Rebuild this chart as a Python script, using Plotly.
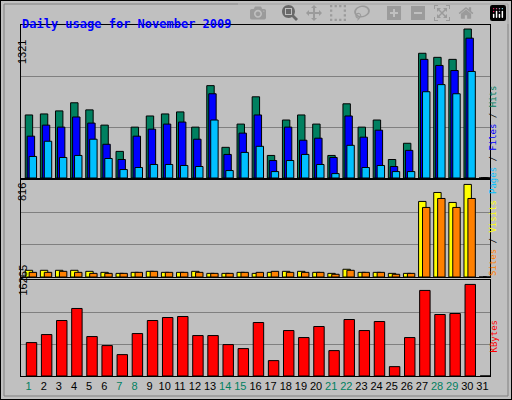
import plotly.graph_objects as go

days = list(range(1, 32))
hits = [559,568,595,667,604,469,236,451,550,568,586,451,819,272,478,720,200,514,559,478,200,658,451,514,164,308,1106,1070,1052,1321,0]
files = [371,469,451,541,487,299,164,371,433,478,496,344,747,209,398,559,155,451,335,353,182,550,362,424,102,245,1052,998,953,1240,0]
pages = [191,326,182,200,344,173,75,93,120,120,111,102,514,66,227,281,57,155,209,120,39,290,93,111,57,57,765,828,747,945,0]
visits = [59,59,59,59,50,41,32,41,50,41,41,50,32,32,41,32,41,50,50,41,32,68,41,41,32,32,666,745,657,816,0]
sites = [41,41,50,41,32,32,32,41,50,41,41,41,32,32,41,41,50,41,41,41,24,59,41,41,24,32,613,692,613,692,0]
kbytes = [5936,7361,9854,11991,7005,5402,3799,7539,9854,10388,10566,7183,7183,5580,4868,9498,2731,8073,6826,8785,4511,10032,8073,9676,1662,6826,15196,10922,11100,16265,0]
weekend = [1,7,8,14,15,21,22,28,29]
max_hits, max_visits, max_kb = 1321, 816, 16265

fig = go.Figure()
line = dict(color="black", width=1)
def bar(y, color, off, w, xa, ya):
    fig.add_trace(go.Bar(x=days, y=y, marker=dict(color=color, line=line), offset=off, width=w,
                         xaxis=xa, yaxis=ya, showlegend=False, hoverinfo="skip"))
bar(hits, "#008060", -0.22, 0.49, "x", "y")
bar(files, "#0000FF", -0.09, 0.49, "x", "y")
bar(pages, "#00C0FF", 0.04, 0.49, "x", "y")
bar(visits, "#FFFF00", -0.22, 0.49, "x2", "y2")
bar(sites, "#FF8000", 0.04, 0.49, "x2", "y2")
bar(kbytes, "#FF0000", -0.15, 0.69, "x3", "y3")

xd = [21/512, 490/512]
def yax(R, dom, anchor):
    return dict(domain=dom, range=[0, R], tickvals=[R/3, 2*R/3], showticklabels=False, anchor=anchor,
                gridcolor="#808080", gridwidth=1, zeroline=False, showline=True, linecolor="black", mirror=True, ticks="")
def xax(anchor, show=False):
    d = dict(domain=xd, range=[0.5, 31.5], anchor=anchor, showgrid=False, zeroline=False,
             showline=True, linecolor="black", mirror=True, ticks="")
    if show:
        d.update(tickvals=days, ticktext=[f"<span style='color:#008060'>{d_}</span>" if d_ in weekend else str(d_) for d_ in days],
                 tickfont=dict(family="Liberation Sans", size=11, color="black"), showticklabels=True)
    else:
        d.update(showticklabels=False)
    return d

Rh = max_hits * 152 / 148
Rv = max_visits * 96.7 / 92.3
Rk = max_kb * 95.7 / 91.3
fig.update_layout(
    width=512, height=400, margin=dict(l=0, r=0, t=0, b=0),
    paper_bgcolor="#C0C0C0", plot_bgcolor="#C0C0C0", barmode="overlay",
    xaxis=xax("y"), yaxis=yax(Rh, [222/400, 375/400], "x"),
    xaxis2=xax("y2"), yaxis2=yax(Rv, [123/400, 220/400], "x2"),
    xaxis3=xax("y3", True), yaxis3=yax(Rk, [24/400, 120/400], "x3"),
)

mono = "DejaVu Sans Mono"
ann = [
    dict(x=20, y=15, text="<b>Daily usage for November 2009</b>", font=dict(family=mono, size=12, color="#0000FF"), xanchor="left"),
    dict(x=14, y=38, text=str(max_hits), textangle=-90, font=dict(family="Liberation Sans", size=11, color="black")),
    dict(x=14, y=192, text=str(max_visits), textangle=-90, font=dict(family="Liberation Sans", size=11, color="black")),
    dict(x=14, y=298, text=str(max_kb), textangle=-90, font=dict(family="Liberation Sans", size=11, color="black")),
    dict(x=500, y=84, text="<span style='color:#00C0FF'>Pages</span> / <span style='color:#0000FF'>Files</span> / <span style='color:#008060'>Hits</span>",
         textangle=-90, font=dict(family=mono, size=9, color="black")),
    dict(x=500, y=238, text="<span style='color:#FF8000'>Sites</span> / <span style='color:#FFFF00'>Visits</span>",
         textangle=-90, font=dict(family=mono, size=9, color="black")),
    dict(x=500, y=355, text="<span style='color:#FF0000'>KBytes</span>",
         textangle=-90, font=dict(family=mono, size=9, color="black")),
]
for a in ann:
    a.update(xref="paper", yref="paper", showarrow=False)
    a["x"] = a["x"] / 512
    a["y"] = 1 - a["y"] / 400
fig.update_layout(annotations=ann)
fig.add_shape(type="rect", xref="paper", yref="paper", x0=0, y0=0, x1=1, y1=1, line=dict(color="black", width=2))
fig.add_shape(type="rect", xref="paper", yref="paper", x0=4/512, y0=4/400, x1=508/512, y1=396/400, line=dict(color="#808080", width=1))
fig.write_html("out.html", post_script="document.body.style.margin='0';document.body.style.overflow='hidden';")
